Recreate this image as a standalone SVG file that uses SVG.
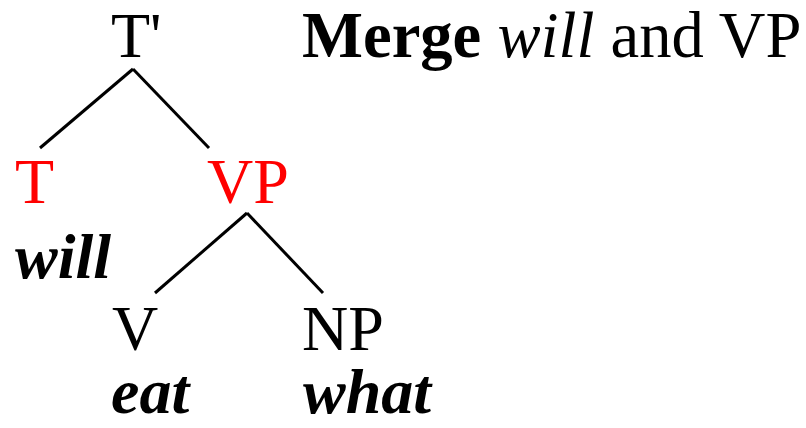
<svg xmlns="http://www.w3.org/2000/svg" width="806" height="428" viewBox="0 0 806 428">
<style>
text{font-family:"Liberation Serif","Times New Roman",serif;font-size:64px;fill:#000}
.red{fill:#ff0000}
.bi{font-weight:bold;font-style:italic}
.b{font-weight:bold}
.i{font-style:italic}
.edge{stroke:#000;stroke-width:3;fill:none}
</style>
<rect width="806" height="428" fill="#fff"/>
<g id="connectors">
<line class="edge" x1="133" y1="69" x2="40" y2="148"/>
<line class="edge" x1="133" y1="69" x2="209" y2="148"/>
<line class="edge" x1="247" y1="213" x2="155" y2="293"/>
<line class="edge" x1="247" y1="213" x2="323" y2="293"/>
</g>
<g id="title"><text x="302" y="57" style="font-size:64.6px"><tspan class="b">Merge</tspan> <tspan class="i">will</tspan> and VP</text></g>
<g id="node-Tbar"><text x="111" y="57">T'</text></g>
<g id="node-T"><text class="red" x="15" y="203">T</text><text class="bi" x="15" y="278">will</text></g>
<g id="node-VP"><text class="red" x="207" y="203">VP</text></g>
<g id="node-V"><text x="112" y="350">V</text><text class="bi" x="111" y="413">eat</text></g>
<g id="node-NP"><text x="302" y="350">NP</text><text class="bi" x="303" y="413">what</text></g>
</svg>
